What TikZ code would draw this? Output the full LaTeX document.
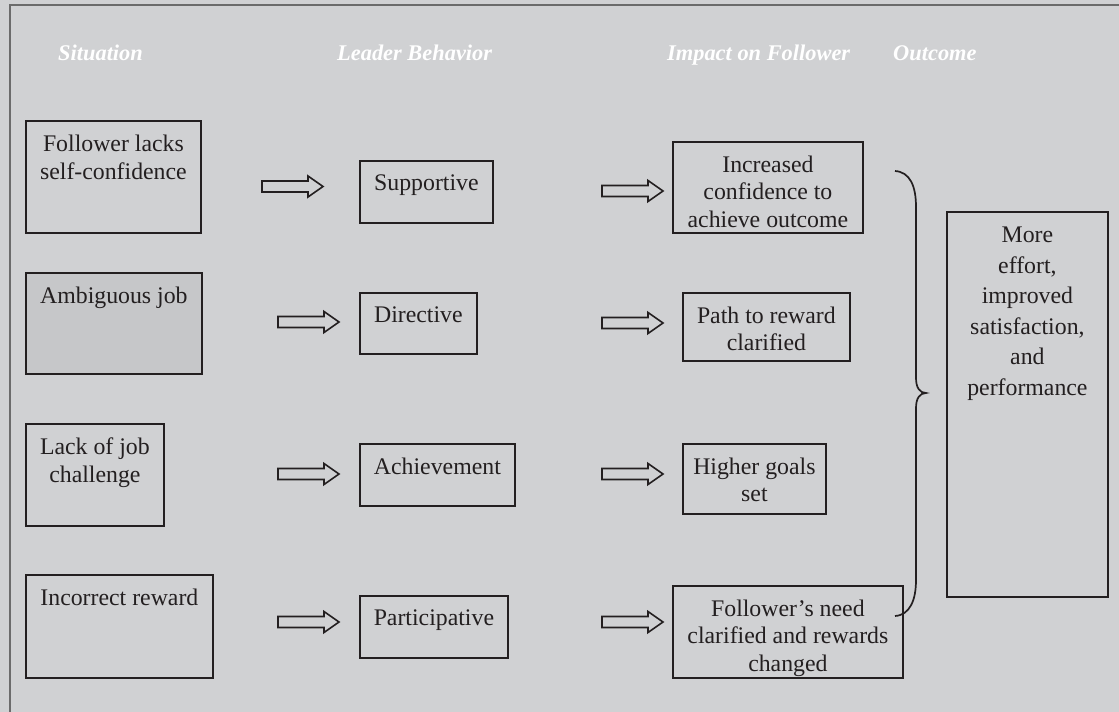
\documentclass[tikz,border=0pt]{standalone}
\usepackage{fontspec}
\setmainfont{Liberation Serif}
\definecolor{bg}{HTML}{D0D1D3}
\definecolor{ink}{HTML}{231F20}
\definecolor{framec}{HTML}{6B6B6B}
\definecolor{darkfill}{HTML}{C6C7C9}
\tikzset{
  box/.style={draw=ink, line width=1.8pt, rectangle, inner sep=0pt, anchor=north west},
  txt/.style={font=\fontsize{23.8}{27.5}\selectfont, text=ink, align=center, inner sep=0pt, anchor=north},
  otxt/.style={font=\fontsize{23.8}{30.5}\selectfont, text=ink, align=center, inner sep=0pt, anchor=north},
  hdr/.style={font=\fontsize{22.4}{26}\selectfont\bfseries\itshape, text=white, inner sep=0pt, anchor=base west},
  barrow/.style={draw=ink, line width=1.6pt, fill=bg, line join=miter},
  bracestyle/.style={draw=ink, line width=1.7pt},
  barrowpic/.pic={\draw[barrow] (0,-5.5) -- (46,-5.5) -- (46,-10.5) -- (61,0) -- (46,10.5) -- (46,5.5) -- (0,5.5) -- cycle;}
}
\begin{document}
\begin{tikzpicture}[x=1pt,y=-1pt]
\useasboundingbox (0,0) rectangle (1119,712);
\fill[bg] (0,0) rectangle (1119,712);
\draw[framec, line width=1.6pt] (10,712) -- (10,5) -- (1119,5);

% headers
\node[hdr] (h1) at (58,60) {Situation};
\node[hdr] (h2) at (337,60) {Leader Behavior};
\node[hdr] (h3) at (667,60) {Impact on Follower};
\node[hdr] (h4) at (893,60) {Outcome};

% situation column
\node[box, minimum width=175pt, minimum height=112pt] (s1) at (25,120) {};
\node[txt] (s1t) at ([yshift=-15pt]s1.north) {Follower lacks\\self-confidence};
\node[box, fill=darkfill, minimum width=176pt, minimum height=101pt] (s2) at (25,272) {};
\node[txt] (s2t) at ([yshift=-15pt]s2.north) {Ambiguous job};
\node[box, minimum width=138pt, minimum height=102pt] (s3) at (25,423) {};
\node[txt] (s3t) at ([yshift=-15pt]s3.north) {Lack of job\\challenge};
\node[box, minimum width=187pt, minimum height=103pt] (s4) at (25,574) {};
\node[txt] (s4t) at ([yshift=-15pt]s4.north) {Incorrect reward};

% leader behaviour column
\node[box, minimum width=133pt, minimum height=62pt] (b1) at (359,160) {};
\node[txt] (b1t) at ([yshift=-14.5pt]b1.north) {Supportive};
\node[box, minimum width=117pt, minimum height=61pt] (b2) at (359,292) {};
\node[txt] (b2t) at ([yshift=-14.5pt]b2.north) {Directive};
\node[box, minimum width=155pt, minimum height=62pt] (b3) at (359,443) {};
\node[txt] (b3t) at ([yshift=-14.5pt]b3.north) {Achievement};
\node[box, minimum width=148pt, minimum height=62pt] (b4) at (359,595) {};
\node[txt] (b4t) at ([yshift=-14.5pt]b4.north) {Participative};

% impact column
\node[box, minimum width=190pt, minimum height=91pt] (i1) at (672,141) {};
\node[txt] (i1t) at ([yshift=-14.5pt]i1.north) {Increased\\confidence to\\achieve outcome};
\node[box, minimum width=167pt, minimum height=68pt] (i2) at (682,292) {};
\node[txt] (i2t) at ([yshift=-14.5pt]i2.north) {Path to reward\\clarified};
\node[box, minimum width=143pt, minimum height=70pt] (i3) at (682,443) {};
\node[txt] (i3t) at ([yshift=-14.5pt]i3.north) {Higher goals\\set};
\node[box, minimum width=230pt, minimum height=92pt] (i4) at (672,585) {};
\node[txt] (i4t) at ([yshift=-14.5pt]i4.north) {Follower’s need\\clarified and rewards\\changed};

% outcome
\node[box, minimum width=161pt, minimum height=385pt] (o1) at (946,211) {};
\node[otxt] (o1t) at ([yshift=-16pt]o1.north) {More\\effort,\\improved\\satisfaction,\\and\\performance};

% block arrows
\pic at (262,186.5) {barrowpic};
\pic at (278,322) {barrowpic};
\pic at (278,474) {barrowpic};
\pic at (278,622) {barrowpic};
\pic at (602,191) {barrowpic};
\pic at (602,323) {barrowpic};
\pic at (602,474) {barrowpic};
\pic at (602,622) {barrowpic};

% brace
\coordinate (bt) at (895,171);
\coordinate (bb) at (895,616);
\coordinate (btip) at (926,393);
\draw[bracestyle] (bt) .. controls (910,172) and (916,186) .. (916,207) -- (916,378)
  .. controls (916,388) and (920,393) .. (btip)
  .. controls (920,393) and (916,398) .. (916,408) -- (916,580)
  .. controls (916,600) and (910,615) .. (bb);
\end{tikzpicture}
\end{document}
